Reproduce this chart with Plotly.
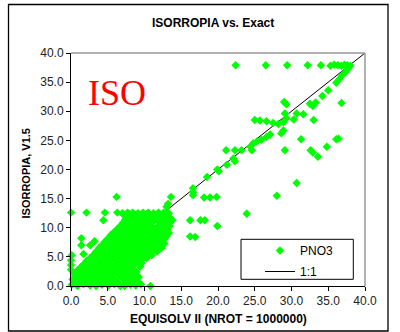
import plotly.graph_objects as go

# PNO3 comparison: EQUISOLV II (x) vs ISORROPIA V1.5 (y), grouped by region of the plot
top_x = [22.4, 26.5, 29.4, 32.2, 34.0, 35.3, 35.8, 36.3, 36.8, 37.2, 37.6, 38.0]
top_y = [37.9, 37.9, 37.9, 37.9, 37.9, 37.8, 38.0, 37.9, 37.8, 38.0, 37.9, 37.8]

upper_x = [37.7, 37.4, 36.9, 36.5, 36.1, 35.0, 34.2, 33.3, 32.5, 32.9, 36.8, 29.0, 29.3,
           31.6, 30.7, 30.3, 29.1, 29.3, 33.0, 25.0, 25.7, 26.6, 27.5, 28.2, 28.9, 28.9,
           28.6, 27.1, 26.6, 25.9, 25.3, 24.8, 24.4, 24.6, 23.2, 22.3, 21.1, 31.3, 36.1,
           36.4, 34.8, 29.1, 32.6, 32.9, 33.6, 22.1, 22.3, 21.2, 19.9, 20.1, 18.5, 30.7, 16.6]
upper_y = [37.3, 36.8, 36.2, 35.5, 34.9, 33.6, 32.6, 31.5, 31.3, 30.9, 31.4, 31.6, 31.2,
           29.5, 29.6, 28.6, 29.6, 28.8, 28.5, 28.5, 28.4, 28.3, 28.0, 27.8, 28.1, 26.7,
           26.2, 26.0, 25.6, 25.1, 24.8, 24.5, 23.9, 23.3, 23.3, 23.3, 23.3, 25.2, 25.2,
           25.3, 23.9, 23.3, 23.3, 22.9, 22.2, 21.9, 21.4, 20.8, 20.0, 19.7, 18.7, 17.7, 16.8]

mid_x = [16.6, 16.6, 18.1, 18.9, 19.8, 13.6, 13.2, 13.0, 28.0, 23.9, 13.8, 16.2, 17.6,
         18.2, 19.9, 16.2, 16.9, 12.7, 12.3, 11.7, 11.0, 11.4, 9.4, 10.8, 7.3, 6.2]
mid_y = [16.1, 15.6, 15.2, 15.2, 15.3, 15.3, 14.1, 13.6, 15.5, 12.4, 11.3, 11.3, 11.3,
         11.3, 10.3, 8.5, 8.4, 7.3, 6.5, 5.9, 5.3, 6.2, 3.3, 0.0, 0.0, 15.3]

left_x = [0.0, 2.1, 4.6, 4.4, 1.4, 1.4, 3.2, 2.6, 1.7, 0.1, 0.0, 0.0, 0.0, 3.9, 4.9, 7.6]
left_y = [12.6, 12.6, 12.6, 11.3, 8.2, 7.0, 7.7, 7.0, 5.5, 5.3, 4.4, 3.6, 2.8, 6.2, 5.6, 9.3]

shelf_x = [6.3, 7.0, 7.7, 8.4, 9.1, 9.8, 10.5, 11.2, 11.9, 12.6, 13.3]
shelf_y = [12.6, 12.5, 12.6, 12.6, 12.5, 12.6, 12.6, 12.5, 12.6, 12.6, 12.5]

low_x = [
    0.1, 0.9, 1.7, 2.6, 3.4, 4.2, 5.1, 5.9, 6.7, 8.1, 8.8, 9.5,
    0.5, 1.3, 2.2, 3.0, 3.8, 4.7, 5.5, 6.3, 7.4, 8.5, 9.1,
    0.2, 1.0, 1.9, 2.7, 3.6, 4.4, 5.3, 6.1, 7.0, 7.8, 8.7, 9.2,
    0.6, 1.5, 2.3, 3.2, 4.0, 4.9, 5.7, 6.6, 7.4, 8.3, 9.0,
    0.4, 1.2, 2.1, 3.0, 3.8, 4.7, 5.5, 6.4, 7.2, 8.1, 8.9,
    0.9, 1.7, 2.6, 3.4, 4.3, 5.1, 6.0, 6.9, 7.7, 8.6,
    1.3, 2.2, 3.1, 3.9, 4.8, 5.6, 6.5, 7.4, 8.2,
    1.7, 2.6, 3.5, 4.3, 5.2, 6.0, 6.9, 7.7, 8.6, 9.6,
    2.1, 3.0, 3.8, 4.7, 5.5, 6.4, 7.2, 8.1, 8.9, 9.7, 10.3,
    2.6, 3.4, 4.3, 5.1, 6.0, 6.8, 7.7, 8.5, 9.4, 10.0,
    3.0, 3.9, 4.7, 5.6, 6.4, 7.3, 8.1, 9.0, 9.8, 10.5,
    3.4, 4.3, 5.1, 6.0, 6.8, 7.7, 8.5, 9.4, 10.2, 10.9,
    3.8, 4.6, 5.5, 6.3, 7.2, 8.0, 8.9, 9.7, 10.6, 11.3,
    4.2, 5.0, 5.9, 6.7, 7.6, 8.4, 9.3, 10.1, 11.0, 11.8,
    4.6, 5.4, 6.3, 7.1, 8.0, 8.8, 9.7, 10.5, 11.4, 12.1,
    5.0, 5.8, 6.7, 7.5, 8.4, 9.2, 10.1, 10.9, 11.8, 12.6,
    5.4, 6.2, 7.1, 7.9, 8.8, 9.6, 10.5, 11.3, 12.2, 13.0,
    5.8, 6.7, 7.5, 8.4, 9.2, 10.1, 10.9, 11.8, 12.6, 13.3,
    6.3, 7.1, 8.0, 8.8, 9.7, 10.5, 11.4, 12.2, 13.1,
    6.7, 7.5, 8.4, 9.2, 10.1, 10.9, 11.8, 12.6, 13.4,
    7.1, 7.9, 8.8, 9.6, 10.5, 11.3, 12.2, 13.0,
    7.4, 8.3, 9.2, 10.0, 10.9, 11.7, 12.6, 13.4,
    7.6, 8.5, 9.3, 10.2, 11.0, 11.9, 12.7, 13.4,
    7.2, 8.0, 8.9, 9.7, 10.6, 11.5, 12.3, 13.1,
]
low_y = [
    0.2, 0.0, 0.3, 0.1, 0.0, 0.2, 0.1, 0.3, 0.0, 0.2, 0.1, 0.3,
    0.6, 0.7, 0.5, 0.6, 0.7, 0.5, 0.6, 0.7, 0.5, 0.6, 0.7,
    1.1, 1.3, 0.9, 1.2, 1.0, 1.4, 1.1, 0.9, 1.3, 1.0, 1.2, 1.5,
    1.6, 1.7, 1.6, 1.8, 1.6, 1.7, 1.6, 1.8, 1.7, 1.6, 1.8,
    2.1, 2.3, 2.0, 2.2, 2.4, 1.9, 2.2, 2.1, 2.3, 2.0, 2.4,
    2.7, 2.6, 2.8, 2.7, 2.6, 2.8, 2.7, 2.6, 2.8, 2.7,
    3.2, 3.0, 3.4, 3.1, 3.3, 3.0, 3.2, 3.4, 3.1,
    3.7, 3.8, 3.7, 3.6, 3.8, 3.7, 3.6, 3.8, 3.7, 3.9,
    4.3, 4.1, 4.4, 4.2, 4.5, 4.3, 4.1, 4.4, 4.2, 4.6, 4.8,
    4.8, 4.9, 4.8, 4.7, 4.9, 4.8, 4.7, 4.9, 4.8, 5.0,
    5.3, 5.5, 5.2, 5.4, 5.6, 5.3, 5.5, 5.2, 5.4, 5.6,
    5.9, 6.0, 5.9, 5.8, 6.0, 5.9, 5.8, 6.0, 5.9, 6.1,
    6.5, 6.7, 6.4, 6.6, 6.3, 6.5, 6.7, 6.4, 6.6, 6.8,
    7.0, 7.1, 7.0, 6.9, 7.1, 7.0, 6.9, 7.1, 7.0, 7.2,
    7.6, 7.4, 7.7, 7.5, 7.8, 7.6, 7.4, 7.7, 7.5, 7.6,
    8.1, 8.2, 8.1, 8.0, 8.2, 8.1, 8.0, 8.2, 8.1, 8.0,
    8.7, 8.9, 8.6, 8.8, 8.5, 8.7, 8.9, 8.6, 8.8, 8.5,
    9.2, 9.3, 9.2, 9.1, 9.3, 9.2, 9.1, 9.3, 9.2, 9.1,
    9.8, 9.6, 9.9, 9.7, 10.0, 9.8, 9.6, 9.9, 9.7,
    10.3, 10.4, 10.3, 10.2, 10.4, 10.3, 10.2, 10.4, 10.3,
    10.9, 11.1, 10.8, 11.0, 10.9, 11.2, 10.8, 11.0,
    11.4, 11.5, 11.4, 11.3, 11.5, 11.4, 11.3, 11.5,
    11.8, 11.9, 11.7, 11.9, 11.8, 11.7, 11.9, 11.8,
    12.2, 12.3, 12.2, 12.1, 12.3, 12.2, 12.1, 12.3,
]

one_to_one = [0, 40]
tick_vals = [0, 5, 10, 15, 20, 25, 30, 35, 40]

exact = top_x + upper_x + mid_x + left_x + shelf_x + low_x
isorropia = top_y + upper_y + mid_y + left_y + shelf_y + low_y

SANS = "Liberation Sans, Arial, sans-serif"
W, H = 400, 332
L, R, T, B = 71, 35, 53, 46
PW, PH = W - L - R, H - T - B


def px_x(p):
    return (p - L) / PW


def px_y(p):
    return (H - B - p) / PH


fig = go.Figure()
# reference line goes underneath the markers
fig.add_trace(go.Scatter(
    x=one_to_one, y=one_to_one, mode="lines", name="1:1",
    line=dict(color="black", width=1), cliponaxis=False,
    legendgroup="b", legendrank=2,
))
fig.add_trace(go.Scatter(
    x=exact, y=isorropia, mode="markers", name="PNO3",
    marker=dict(symbol="diamond", size=6.5, color="#00FF00", line=dict(width=0)),
    cliponaxis=False, legendgroup="a", legendrank=1,
))

axis_common = dict(
    range=[0, 40], tickvals=tick_vals, tickformat=".1f",
    ticks="outside", ticklen=4, tickcolor="black", tickwidth=1,
    showline=True, linecolor="black", linewidth=1,
    showgrid=False, zeroline=False,
    tickfont=dict(family=SANS, size=12, color="#222222"),
)
fig.update_xaxes(**axis_common)
fig.update_yaxes(**axis_common)

fig.update_layout(
    width=W, height=H,
    margin=dict(l=L, r=R, t=T, b=B),
    paper_bgcolor="white", plot_bgcolor="white",
    showlegend=True,
    legend=dict(
        x=px_x(260), y=px_y(236), xanchor="left", yanchor="top",
        bgcolor="rgba(0,0,0,0)", borderwidth=0, tracegroupgap=2,
        traceorder="grouped",
        font=dict(family=SANS, size=12, color="black"),
    ),
    shapes=[
        # outer chart frame
        dict(type="rect", xref="paper", yref="paper",
             x0=px_x(8.5), x1=px_x(388), y0=px_y(331), y1=px_y(4.5),
             line=dict(color="black", width=1.3), layer="below"),
        # grey top and right edges of the plot area
        dict(type="line", xref="paper", yref="paper", x0=0, x1=1, y0=1, y1=1,
             line=dict(color="#999999", width=1.5)),
        dict(type="line", xref="paper", yref="paper", x0=1, x1=1, y0=0, y1=1,
             line=dict(color="#999999", width=1.5)),
        # legend box
        dict(type="rect", xref="paper", yref="paper",
             x0=px_x(241), x1=px_x(353.3), y0=px_y(279.3), y1=px_y(239.3),
             line=dict(color="black", width=1), fillcolor="white", layer="above"),
    ],
    annotations=[
        dict(text="<b>ISORROPIA vs. Exact</b>", xref="paper", yref="paper",
             x=px_x(212.5), y=px_y(23), xanchor="center", yanchor="middle",
             showarrow=False, font=dict(family=SANS, size=12, color="black")),
        dict(text="<b>EQUISOLV II (NROT = 1000000)</b>", xref="paper", yref="paper",
             x=0.5, y=px_y(319), xanchor="center", yanchor="middle",
             showarrow=False, font=dict(family=SANS, size=12, color="black")),
        dict(text="<b>ISORROPIA, V1.5</b>", xref="paper", yref="paper",
             x=px_x(25), y=px_y(173.5), xanchor="center", yanchor="middle",
             textangle=-90, showarrow=False,
             font=dict(family=SANS, size=11, color="black")),
        dict(text="ISO", xref="paper", yref="paper",
             x=px_x(86), y=px_y(92.5), xanchor="left", yanchor="middle",
             showarrow=False,
             font=dict(family="Liberation Serif, Times New Roman, serif", size=36, color="red")),
    ],
)

fig.write_html("out.html")
